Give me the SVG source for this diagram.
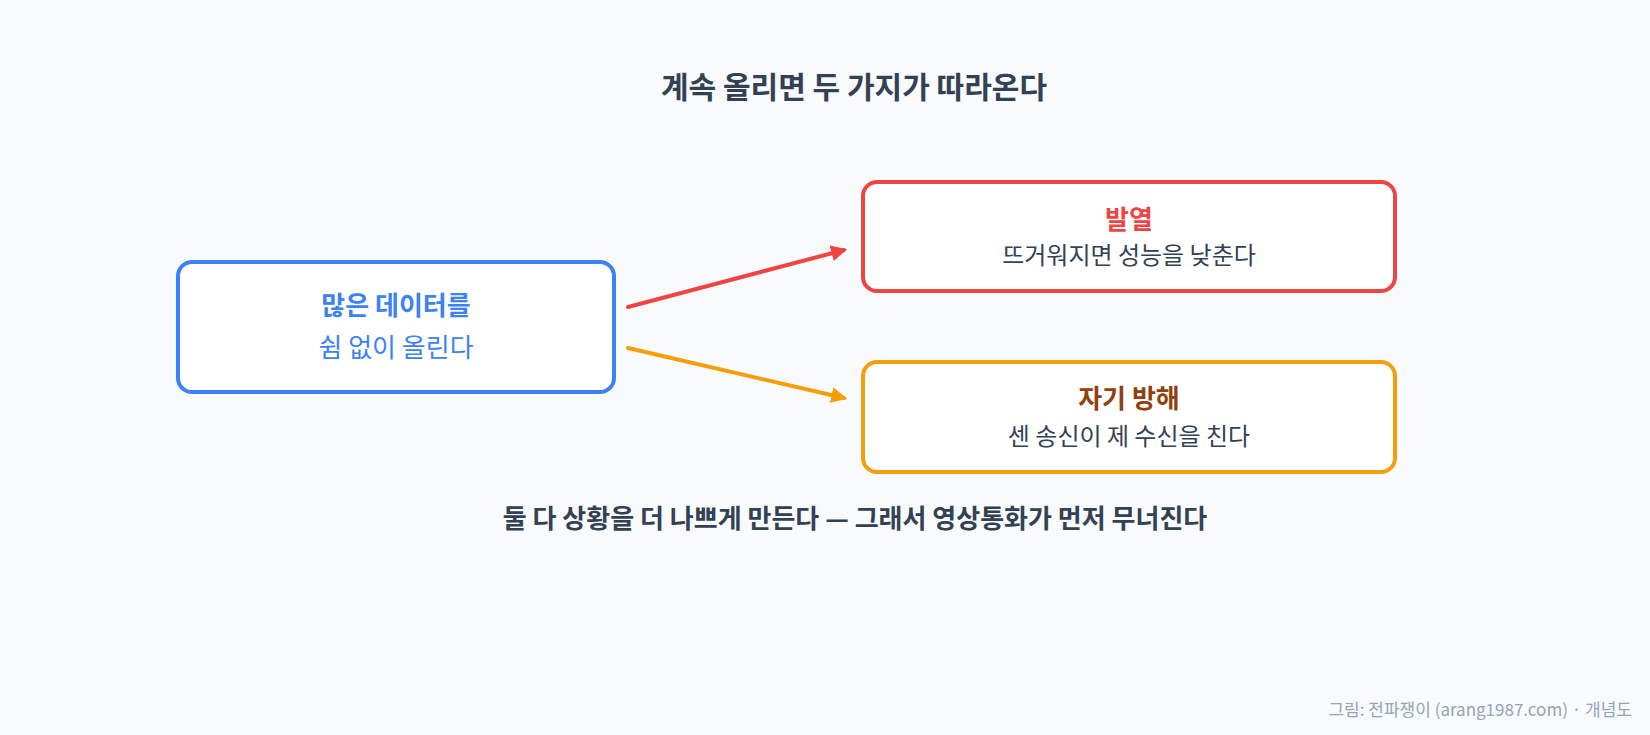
<svg xmlns="http://www.w3.org/2000/svg" width="1650" height="735" viewBox="0 0 1650 735">
<defs>
<style>
text{font-family:"Noto Sans CJK KR","Noto Sans",sans-serif;text-anchor:middle}
.box{fill:#ffffff;stroke-width:4}
.t{font-size:26px;font-weight:700}
.s{font-size:24px;fill:#334155}
.line{fill:none;stroke-width:4;stroke-linecap:round}
</style>
<marker id="ar" viewBox="0 0 10 10" refX="8" refY="5" markerWidth="4" markerHeight="4" orient="auto" markerUnits="strokeWidth"><path d="M0,0 L10,5 L0,10 z" fill="#ef4444"/></marker>
<marker id="ao" viewBox="0 0 10 10" refX="8" refY="5" markerWidth="4" markerHeight="4" orient="auto" markerUnits="strokeWidth"><path d="M0,0 L10,5 L0,10 z" fill="#f59e0b"/></marker>
</defs>
<rect width="1650" height="735" fill="#f8fafc"/>
<text x="854" y="98" font-size="30" font-weight="700" fill="#334155">계속 올리면 두 가지가 따라온다</text>
<g id="source">
<rect class="box" x="178" y="262" width="436" height="130" rx="14" stroke="#3b82f6"/>
<text class="t" x="396" y="315" fill="#3b82f6">많은 데이터를</text>
<text x="396" y="357" font-size="26" fill="#3b82f6">쉼 없이 올린다</text>
</g>
<g id="heat">
<rect class="box" x="863" y="182" width="532" height="109" rx="14" stroke="#ef4444"/>
<text class="t" x="1129" y="229" fill="#ef4444">발열</text>
<text class="s" x="1129" y="264">뜨거워지면 성능을 낮춘다</text>
</g>
<g id="interference">
<rect class="box" x="863" y="362" width="532" height="110" rx="14" stroke="#f59e0b"/>
<text class="t" x="1129" y="408" fill="#92400e">자기 방해</text>
<text class="s" x="1129" y="445">센 송신이 제 수신을 친다</text>
</g>
<g id="connectors">
<line class="line" x1="628" y1="307" x2="844" y2="250" stroke="#ef4444" marker-end="url(#ar)"/>
<line class="line" x1="628" y1="348" x2="844" y2="398" stroke="#f59e0b" marker-end="url(#ao)"/>
</g>
<text x="855" y="528" font-size="26" font-weight="700" fill="#334155">둘 다 상황을 더 나쁘게 만든다 — 그래서 영상통화가 먼저 무너진다</text>
<text x="1632" y="716" font-size="17" fill="#94a3b8" style="text-anchor:end">그림: 전파쟁이 (arang1987.com) · 개념도</text>
</svg>
